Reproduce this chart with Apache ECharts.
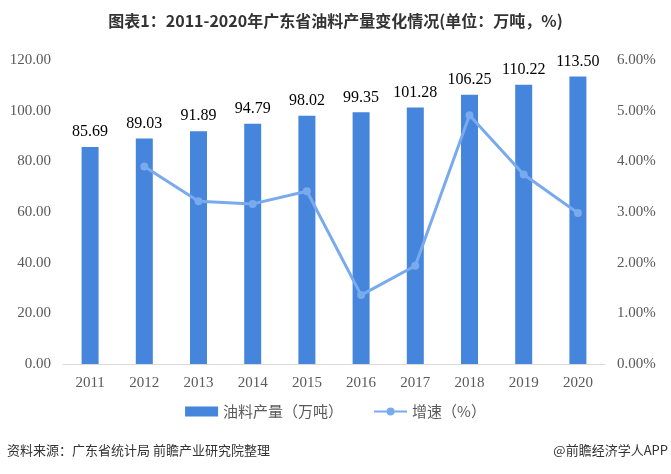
<!DOCTYPE html>
<html><head><meta charset="utf-8">
<script src="https://cdn.jsdelivr.net/npm/echarts@6/dist/echarts.min.js"></script>
<style>html,body{margin:0;padding:0;background:#fff}#c{width:671px;height:474px}</style>
</head><body><div id="c"></div>
<script>
var years = ['2011','2012','2013','2014','2015','2016','2017','2018','2019','2020'];
var output = [85.69, 89.03, 91.89, 94.79, 98.02, 99.35, 101.28, 106.25, 110.22, 113.50];
var growth = [null, 3.90, 3.21, 3.16, 3.41, 1.36, 1.94, 4.91, 3.74, 2.98];
var leftTicks = {min: 0, max: 120, interval: 20};
var rightTicks = {min: 0, max: 6, interval: 1};

var chart = echarts.init(document.getElementById('c'));
chart.setOption({
  animation: false,
  title: {
    text: '图表1：2011-2020年广东省油料产量变化情况(单位：万吨，%)',
    left: 'center', top: 8,
    textStyle: {fontFamily: 'Noto Sans CJK SC', fontWeight: 'bold', fontSize: 16, color: '#333'}
  },
  graphic: [
    {type: 'text', left: 7, top: 444, style: {text: '资料来源：广东省统计局 前瞻产业研究院整理', font: '13px "Noto Sans CJK SC"', fill: '#333'}},
    {type: 'text', right: 3, top: 444, style: {text: '@前瞻经济学人APP', font: '13px "Noto Sans CJK SC"', fill: '#333'}}
  ],
  legend: {
    top: 399, left: 'center', itemGap: 30, itemWidth: 33, itemHeight: 10,
    textStyle: {fontFamily: 'Noto Sans CJK SC', fontSize: 15, color: '#595959'},
    data: [{name: '油料产量（万吨）', icon: 'rect'}, {name: '增速（%）'}]
  },
  grid: {left: 63, right: 66, top: 60, bottom: 110},
  xAxis: {
    type: 'category', data: years,
    axisLine: {lineStyle: {color: '#d9d9d9'}},
    axisTick: {show: false},
    axisLabel: {fontFamily: 'Liberation Serif', fontSize: 15, color: '#595959', margin: 12}
  },
  yAxis: [
    {type: 'value', min: leftTicks.min, max: leftTicks.max, interval: leftTicks.interval,
     splitLine: {show: false}, axisLine: {show: false}, axisTick: {show: false},
     axisLabel: {fontFamily: 'Liberation Serif', fontSize: 15, color: '#595959', margin: 12,
       formatter: function(v){return v.toFixed(2);}}},
    {type: 'value', min: rightTicks.min, max: rightTicks.max, interval: rightTicks.interval,
     splitLine: {show: false}, axisLine: {show: false}, axisTick: {show: false},
     axisLabel: {fontFamily: 'Liberation Serif', fontSize: 15, color: '#595959', margin: 12,
       formatter: function(v){return v.toFixed(2) + '%';}}}
  ],
  series: [
    {name: '油料产量（万吨）', type: 'bar', data: output, barWidth: 17,
     itemStyle: {color: '#4585dc'},
     label: {show: true, position: 'top', distance: 7, fontFamily: 'Liberation Serif', fontSize: 16, color: '#000',
       formatter: function(p){return p.value.toFixed(2);}}},
    {name: '增速（%）', type: 'line', yAxisIndex: 1, data: growth,
     symbol: 'circle', symbolSize: 8, connectNulls: false,
     lineStyle: {color: '#7aaaee', width: 3}, itemStyle: {color: '#7aaaee'}}
  ]
});
</script></body></html>
